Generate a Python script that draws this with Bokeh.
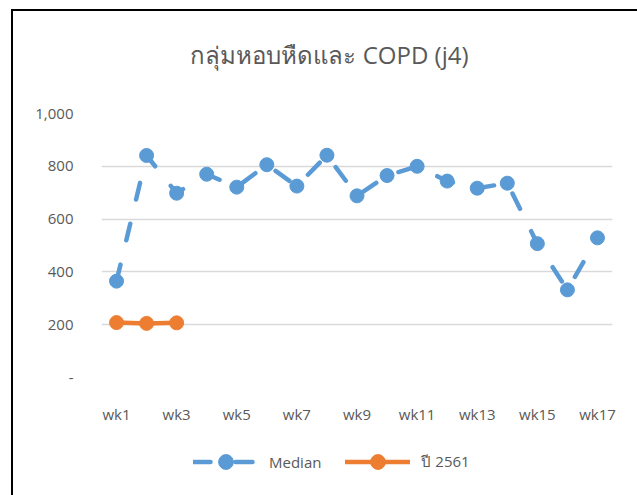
from bokeh.plotting import figure
from bokeh.layouts import column
from bokeh.models import Range1d, FixedTicker, Legend, LegendItem, Label
from bokeh.embed import file_html
from bokeh.resources import INLINE

weeks = [f"wk{i}" for i in range(1, 18)]
median = [365, 841, 698, 770, 721, 806, 725, 842, 688, 765, 800, 744, 717, 736, 507, 332, 529]
year2561_weeks = ["wk1", "wk2", "wk3"]
year2561 = [208, 205, 207]
y_ticks = [0, 200, 400, 600, 800, 1000]
y_tick_labels = ["-", "200", "400", "600", "800", "1,000"]
x_tick_labels = weeks[::2]
title_text = "กลุ่มหอบหืดและ COPD (j4)"
series_names = ["Median", "ปี 2561"]

BLUE = "#5B9BD5"
ORANGE = "#ED7D31"
GREY = "#595959"
FONT = "Open Sans"

pos = {w: i + 1 for i, w in enumerate(weeks)}
x_med = [pos[w] for w in weeks]
x_2561 = [pos[w] for w in year2561_weeks]


def strip(h):
    f = figure(width=624, height=h, x_range=Range1d(-2, -1), y_range=Range1d(-2, -1),
               output_backend="svg", toolbar_location=None, min_border=0)
    f.outline_line_color = None
    f.xaxis.visible = False
    f.yaxis.visible = False
    f.grid.visible = False
    return f


# title strip
t = strip(80)
t.add_layout(Label(x=228, y=37, x_units="screen", y_units="screen", text=title_text,
                   text_align="center", text_baseline="alphabetic", text_font=FONT,
                   text_font_size="24px", text_color=GREY))

# main chart
p = figure(width=624, height=350, x_range=Range1d(0.5, len(weeks) + 0.5),
           y_range=Range1d(0, 1000), output_backend="svg", toolbar_location=None,
           min_border_left=88, min_border_right=25, min_border_top=22, min_border_bottom=64)
p.outline_line_color = None

p.yaxis.ticker = FixedTicker(ticks=y_ticks)
p.yaxis.major_label_overrides = {t_: l for t_, l in zip(y_ticks, y_tick_labels)}
p.xaxis.ticker = FixedTicker(ticks=[pos[w] for w in x_tick_labels])
p.xaxis.major_label_overrides = {pos[w]: w for w in x_tick_labels}
for ax in (p.xaxis[0], p.yaxis[0]):
    ax.axis_line_color = None
    ax.major_tick_line_color = None
    ax.minor_tick_line_color = None
    ax.major_tick_out = 0
    ax.major_tick_in = 0
    ax.major_label_text_font = FONT
    ax.major_label_text_font_size = "15px"
    ax.major_label_text_color = GREY
p.yaxis.major_label_standoff = 28
p.xaxis.major_label_standoff = 26
p.xgrid.grid_line_color = None
p.ygrid.grid_line_color = "#D9D9D9"
p.ygrid.grid_line_width = 1.3

med_style = dict(line_color=BLUE, line_width=4.5, line_dash="17 25", line_cap="round")
org_style = dict(line_color=ORANGE, line_width=4.5, line_cap="round")
p.line(x_med, median, **med_style)
p.scatter(x_med, median, size=14, fill_color=BLUE, line_color=BLUE)
p.line(x_2561, year2561, **org_style)
p.scatter(x_2561, year2561, size=14, fill_color=ORANGE, line_color=ORANGE)

# legend strip: same series drawn outside this strip's view, so only the legend shows
q = strip(54)
ql1 = q.line(x_med, median, **med_style)
qs1 = q.scatter(x_med, median, size=14, fill_color=BLUE, line_color=BLUE)
ql2 = q.line(x_2561, year2561, **org_style)
qs2 = q.scatter(x_2561, year2561, size=14, fill_color=ORANGE, line_color=ORANGE)
legend = Legend(items=[LegendItem(label=series_names[0], renderers=[ql1, qs1]),
                       LegendItem(label=series_names[1], renderers=[ql2, qs2])],
                orientation="horizontal", location=(92, 15), padding=0, margin=0,
                glyph_width=65, glyph_height=37, label_height=20, label_standoff=11,
                spacing=24, border_line_color=None, background_fill_alpha=0,
                label_text_font=FONT, label_text_font_size="15px", label_text_color=GREY)
q.add_layout(legend, "center")

layout = column(t, p, q, spacing=0)
layout.styles = {"margin-left": "11px", "margin-top": "9px",
                 "border-left": "2px solid black", "border-top": "2px solid black"}

open("out.html", "w").write(file_html(layout, INLINE))
